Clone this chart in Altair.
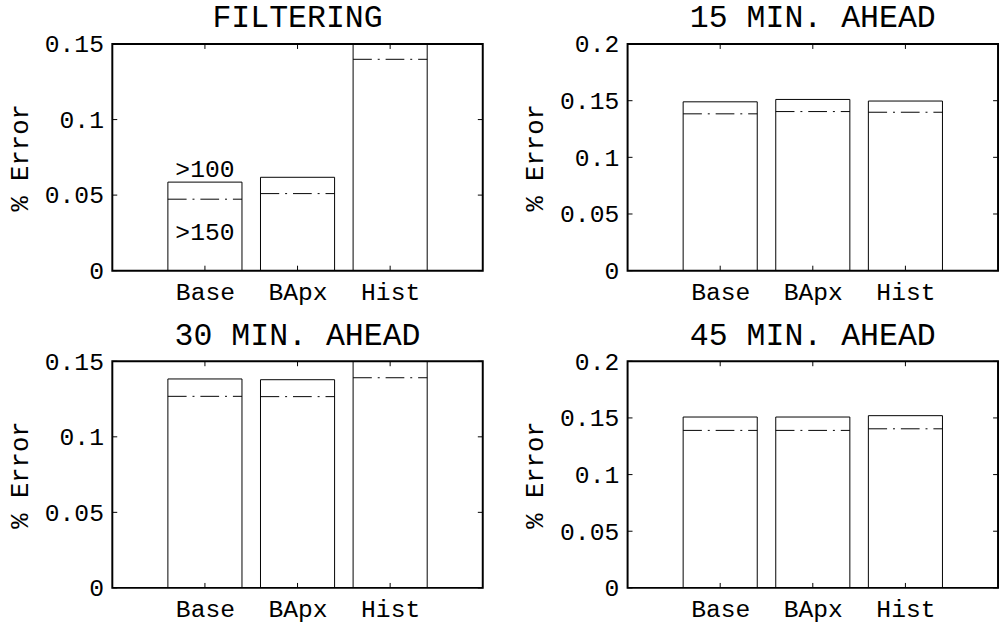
import altair as alt
import pandas as pd

# ---------------- data ----------------
categories = ["Base", "BApx", "Hist"]
positions = [1, 2, 3]

panel_titles = ["FILTERING", "15 MIN. AHEAD", "30 MIN. AHEAD", "45 MIN. AHEAD"]

filtering_bars = [0.0586, 0.0618, 0.16]
filtering_lines = [0.0473, 0.0510, 0.1399]

ahead15_bars = [0.1490, 0.1511, 0.1497]
ahead15_lines = [0.1384, 0.1404, 0.1398]

ahead30_bars = [0.1383, 0.1378, 0.16]
ahead30_lines = [0.1268, 0.1266, 0.1391]

ahead45_bars = [0.1508, 0.1508, 0.1520]
ahead45_lines = [0.1390, 0.1390, 0.1404]

y_max = [0.15, 0.2, 0.15, 0.2]
ticks_015 = [0, 0.05, 0.1, 0.15]
ticks_020 = [0, 0.05, 0.1, 0.15, 0.2]

note_labels = [">100", ">150"]

FONT = "Liberation Mono"
W = 376
H = 230


def label_expr():
    parts = []
    for p, c in zip(positions, categories):
        parts.append(f"datum.value == {p} ? '{c}'")
    return " : ".join(parts) + " : ''"


def panel(title, bars, lines, ymax, yticks, notes=False):
    df = pd.DataFrame({"pos": positions, "cat": categories, "val": bars, "line": lines})
    df["x0"] = df["pos"] - 0.4
    df["x1"] = df["pos"] + 0.4
    xs = alt.Scale(domain=[0, 4], nice=False, zero=False)
    ys = alt.Scale(domain=[0, ymax], nice=False, zero=True)
    xa = alt.Axis(values=positions, labelExpr=label_expr(), title=None,
                  labelPadding=9, labelFlush=False)
    ya = alt.Axis(values=yticks, labelExpr="format(datum.value, '.2~f')", title="% Error",
                  labelPadding=9, titlePadding=12, labelFlush=False)

    base = alt.Chart(df)
    rects = base.mark_rect(filled=False, stroke="black", strokeWidth=1, clip=True).encode(
        x=alt.X("x0:Q", scale=xs, axis=xa),
        x2="x1:Q",
        y=alt.Y("val:Q", scale=ys, axis=ya),
        y2=alt.datum(0),
    )
    dashes = base.mark_rule(stroke="black", strokeWidth=1, strokeDash=[19, 6, 2, 6], clip=True).encode(
        x=alt.X("x0:Q", scale=xs, axis=xa),
        x2="x1:Q",
        y=alt.Y("line:Q", scale=ys, axis=ya),
    )
    ydf = pd.DataFrame({"v": yticks})
    xdf = pd.DataFrame({"p": positions})
    lt = alt.Chart(ydf).mark_rule(stroke="black", strokeWidth=1).encode(
        y=alt.Y("v:Q", scale=ys, axis=ya), x=alt.value(0), x2=alt.value(5))
    rt = alt.Chart(ydf).mark_rule(stroke="black", strokeWidth=1).encode(
        y=alt.Y("v:Q", scale=ys, axis=ya), x=alt.value(W - 5), x2=alt.value(W))
    bt = alt.Chart(xdf).mark_rule(stroke="black", strokeWidth=1).encode(
        x=alt.X("p:Q", scale=xs, axis=xa), y=alt.value(H - 5), y2=alt.value(H))
    tt = alt.Chart(xdf).mark_rule(stroke="black", strokeWidth=1).encode(
        x=alt.X("p:Q", scale=xs, axis=xa), y=alt.value(0), y2=alt.value(5))
    tdf = pd.DataFrame({"p": [2], "t": [title]})
    ttl = alt.Chart(tdf).mark_text(font=FONT, fontSize=32, baseline="alphabetic",
                                   color="black").encode(
        x=alt.X("p:Q", scale=xs, axis=xa), y=alt.value(-17), text="t:N")
    layers = [rects, dashes, lt, rt, bt, tt, ttl]
    if notes:
        ndf = pd.DataFrame({"p": [positions[0], positions[0]],
                            "v": [bars[0], lines[0]],
                            "t": note_labels})
        n1 = alt.Chart(ndf.iloc[[0]]).mark_text(font=FONT, fontSize=25, baseline="alphabetic",
                                                dy=-5, color="black").encode(
            x=alt.X("p:Q", scale=xs, axis=xa), y=alt.Y("v:Q", scale=ys, axis=ya), text="t:N")
        n2 = alt.Chart(ndf.iloc[[1]]).mark_text(font=FONT, fontSize=25, baseline="alphabetic",
                                                dy=41, color="black").encode(
            x=alt.X("p:Q", scale=xs, axis=xa), y=alt.Y("v:Q", scale=ys, axis=ya), text="t:N")
        layers += [n1, n2]
    return alt.layer(*layers).properties(width=W, height=H)


p1 = panel(panel_titles[0], filtering_bars, filtering_lines, y_max[0], ticks_015, notes=True)
p2 = panel(panel_titles[1], ahead15_bars, ahead15_lines, y_max[1], ticks_020)
p3 = panel(panel_titles[2], ahead30_bars, ahead30_lines, y_max[2], ticks_015)
p4 = panel(panel_titles[3], ahead45_bars, ahead45_lines, y_max[3], ticks_020)

top = alt.hconcat(p1, p2, spacing=36)
bottom = alt.hconcat(p3, p4, spacing=36)

chart = alt.vconcat(top, bottom, spacing=13).properties(
    padding={"left": 5, "top": -4, "right": 0, "bottom": 0},
    background="white",
).configure_view(
    stroke="black", strokeWidth=2
).configure_axis(
    domain=False, ticks=False, grid=False,
    labelFont=FONT, labelFontSize=25, labelColor="black",
    titleFont=FONT, titleFontSize=26, titleFontWeight="normal", titleColor="black",
)

chart.save("out.html", embed_options={"renderer": "svg", "actions": False})
